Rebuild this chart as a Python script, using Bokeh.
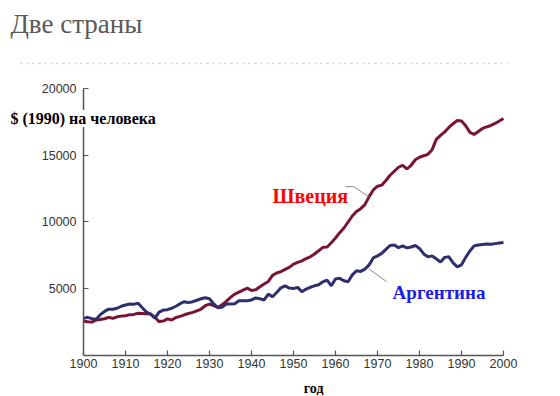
from bokeh.plotting import figure
from bokeh.models import Label, Arrow, Range1d, FixedTicker
from bokeh.embed import file_html
from bokeh.resources import INLINE

years = list(range(1900, 2001))

sweden = [2560, 2520, 2500, 2660, 2700, 2750, 2860, 2780, 2900, 2950,
          2980, 3060, 3080, 3160, 3140, 3120, 3100, 2860, 2540, 2580,
          2740, 2660, 2850, 2930, 3050, 3150, 3230, 3350, 3480, 3730,
          3850, 3730, 3600, 3800, 4050, 4350, 4600, 4750, 4900, 5050,
          4870, 4920, 5150, 5350, 5550, 6000, 6180, 6280, 6450, 6600,
          6850, 6980, 7090, 7250, 7390, 7600, 7850, 8100, 8130, 8450,
          8800, 9200, 9550, 10000, 10450, 10780, 11000, 11300, 11900, 12400,
          12680, 12760, 13110, 13500, 13800, 14100, 14250, 13970, 14250, 14660,
          14850, 14960, 15070, 15420, 16190, 16490, 16750, 17080, 17360, 17610,
          17570, 17210, 16710, 16560, 16780, 17010, 17120, 17230, 17380, 17570,
          17750]

argentina = [2780, 2860, 2760, 2720, 3060, 3300, 3470, 3470, 3540, 3690,
             3780, 3860, 3840, 3920, 3580, 3250, 3100, 2800, 3250, 3400,
             3430, 3540, 3690, 3880, 4030, 3960, 4030, 4140, 4250, 4330,
             4250, 3860, 3580, 3620, 3860, 3860, 3880, 4100, 4100, 4100,
             4160, 4310, 4250, 4160, 4600, 4400, 4720, 5070, 5220, 5050,
             5020, 5100, 4780, 4980, 5110, 5220, 5300, 5520, 5650, 5220,
             5740, 5780, 5600, 5520, 6040, 6340, 6300, 6470, 6790, 7310,
             7460, 7650, 7950, 8240, 8280, 8080, 8210, 8060, 8130, 8240,
             8020, 7610, 7390, 7460, 7240, 7010, 7350, 7390, 6940, 6640,
             6790, 7350, 7830, 8210, 8280, 8320, 8360, 8330, 8380, 8430,
             8470]

x_ticks = [1900, 1910, 1920, 1930, 1940, 1950, 1960, 1970, 1980, 1990, 2000]
y_ticks = [5000, 10000, 15000, 20000]

title_text = "Две страны"
y_label_text = "$ (1990) на человека"
x_label_text = "год"
sweden_name = "Швеция"
argentina_name = "Аргентина"

# leader lines (data coordinates)
sweden_leader_x = [1962.4, 1964.3, 1967.9]
sweden_leader_y = [12650, 12650, 11900]
arg_leader_x = [1967.9, 1972.1]
arg_leader_y = [6500, 5550]

# the frame fills the whole canvas; the axes are pinned at year 1900 / value 0
p = figure(width=560, height=396, output_backend="svg", toolbar_location=None,
           x_range=Range1d(1880.238, 2013.571), y_range=Range1d(-3071.2, 26591.6),
           min_border=0)
p.outline_line_color = None
p.xgrid.visible = False
p.ygrid.visible = False
p.background_fill_color = "white"
p.border_fill_color = "white"

red_line = "#7a1434"
blue_line = "#2e2f6e"

p.line(years, sweden, line_color=red_line, line_width=3)
p.line(years, argentina, line_color=blue_line, line_width=3)

p.line(sweden_leader_x, sweden_leader_y, line_color="#8a8a8a", line_width=1)
p.line(arg_leader_x, arg_leader_y, line_color="#8a8a8a", line_width=1)

for ax in (p.xaxis[0], p.yaxis[0]):
    ax.axis_line_color = "#555555"
    ax.axis_line_width = 1.5
    ax.major_tick_line_color = "#555555"
    ax.major_tick_line_width = 1.2
    ax.major_tick_in = 5
    ax.major_tick_out = 0
    ax.minor_tick_line_color = None
    ax.major_label_text_font = "Liberation Sans"
    ax.major_label_text_font_size = "12.5px"
    ax.major_label_text_color = "#333333"

p.xaxis[0].ticker = FixedTicker(ticks=x_ticks)
p.yaxis[0].ticker = FixedTicker(ticks=y_ticks)
p.xaxis[0].fixed_location = 0
p.yaxis[0].fixed_location = 1900
p.xaxis[0].bounds = (1900, 2000)
p.yaxis[0].bounds = (0, 20000)
p.xaxis[0].major_label_standoff = 4
p.yaxis[0].major_label_standoff = 7

# Title
p.add_layout(Label(x=1882.6, y=24800, text=title_text, text_font="Liberation Serif",
                   text_font_size="27px", text_color="#595959",
                   text_align="left", text_baseline="middle"))
# dotted rule under title
p.add_layout(Arrow(x_start=1885, y_start=21870, x_end=2001, y_end=21870,
                   start=None, end=None, line_color="#c5d2de", line_width=1.5,
                   line_dash="dotted"))
# y label
p.add_layout(Label(x=1882.6, y=17750, text=y_label_text, text_font="Liberation Serif",
                   text_font_style="bold", text_font_size="16px", text_color="black",
                   text_align="left", text_baseline="middle",
                   background_fill_color="white"))
# x label
p.add_layout(Label(x=1954.8, y=-2500, text=x_label_text, text_font="Liberation Serif",
                   text_font_style="bold", text_font_size="14px", text_color="black",
                   text_align="center", text_baseline="middle"))
# series labels
p.add_layout(Label(x=1945.0, y=11950, text=sweden_name, text_font="Liberation Serif",
                   text_font_style="bold", text_font_size="20px", text_color="#ff0000",
                   text_align="left", text_baseline="middle"))
p.add_layout(Label(x=1973.6, y=4720, text=argentina_name, text_font="Liberation Serif",
                   text_font_style="bold", text_font_size="19px", text_color="#1c1ce8",
                   text_align="left", text_baseline="middle"))

open("out.html", "w").write(file_html(p, INLINE))
